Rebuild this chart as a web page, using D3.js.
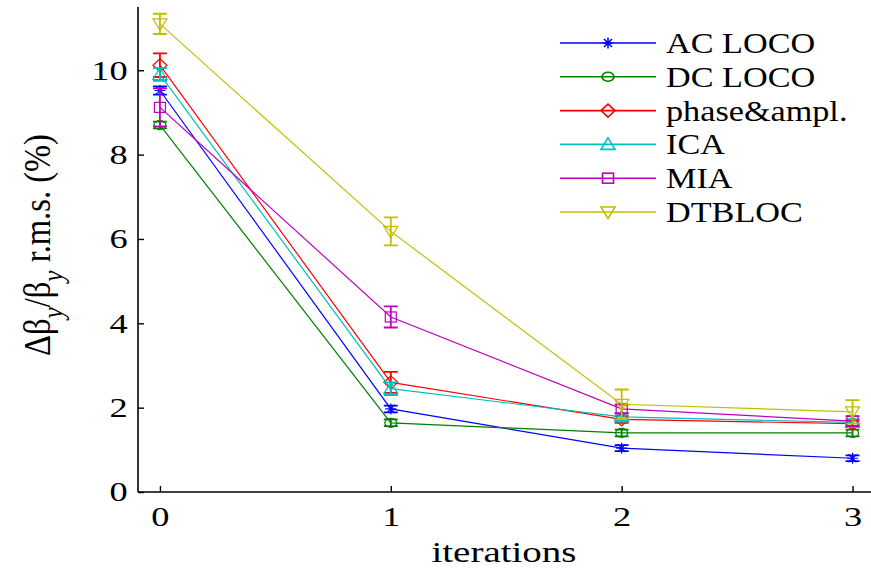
<!DOCTYPE html>
<html><head><meta charset="utf-8">
<script src="https://cdn.jsdelivr.net/npm/d3@7"></script>
<style>body{margin:0;background:#fff}svg{display:block}
svg text{font-family:"Liberation Serif","DejaVu Serif","Times New Roman",Times,serif}</style>
</head><body>
<svg id="c" width="871" height="571"></svg>
<script>
const iterations = [0, 1, 2, 3];
const seriesNames = ["AC LOCO", "DC LOCO", "phase&ampl.", "ICA", "MIA", "DTBLOC"];
const acLoco   = [9.52, 1.97, 1.04, 0.80];
const acErr    = [0.10, 0.08, 0.07, 0.07];
const dcLoco   = [8.70, 1.64, 1.40, 1.40];
const dcErr    = [0.08, 0.08, 0.08, 0.08];
const phaseAmp = [10.12, 2.60, 1.72, 1.62];
const phaseErr = [0.28, 0.25, 0.08, 0.08];
const ica      = [9.90, 2.45, 1.78, 1.65];
const icaErr   = [0.15, 0.15, 0.08, 0.08];
const mia      = [9.12, 4.15, 1.97, 1.68];
const miaErr   = [0.45, 0.25, 0.10, 0.12];
const dtbloc   = [11.10, 6.18, 2.08, 1.90];
const dtErr    = [0.24, 0.33, 0.35, 0.28];
const yTicks = [0, 2, 4, 6, 8, 10];
const xTicks = [0, 1, 2, 3];

const colors = ["#0000ff", "#008000", "#ff0000", "#00bfbf", "#bf00bf", "#bfbf00"];
const markers = ["star", "circle", "diamond", "triUp", "square", "triDown"];
const values = [acLoco, dcLoco, phaseAmp, ica, mia, dtbloc];
const errs = [acErr, dcErr, phaseErr, icaErr, miaErr, dtErr];

const svg = d3.select("#c");
const x = d3.scaleLinear().domain([-0.095, 3.08]).range([138, 871]);
const y = d3.scaleLinear().domain([0, 11.5]).range([492, 7]);
const SX = 1.3;

// axes
const gx = svg.append("g").attr("transform", "translate(0,492)")
  .call(d3.axisBottom(x).tickValues(xTicks).tickFormat(d3.format("d")).tickSize(-6).tickPadding(14));
const gy = svg.append("g").attr("transform", "translate(138,0)")
  .call(d3.axisLeft(y).tickValues(yTicks).tickFormat(d3.format("d")).tickSize(-6).tickPadding(8));
[gx, gy].forEach(g => {
  g.attr("font-family", null);
  g.select(".domain").attr("stroke", "#000").attr("stroke-width", 1.6);
  g.selectAll(".tick line").attr("stroke", "#000").attr("stroke-width", 1.4);
  g.selectAll(".tick text").attr("font-size", 28).attr("fill", "#000").attr("transform", `scale(${SX},1)`);
});
gx.select(".domain").attr("d", "M138,0H871");
gy.select(".domain").attr("d", "M0,492V7");

svg.append("text").attr("transform", `translate(504,562) scale(${SX},1)`).attr("text-anchor", "middle")
  .attr("font-size", 30).text("iterations");

const yl = svg.append("text").attr("transform", "translate(50,245) rotate(-90) scale(1.05,1.25)")
  .attr("text-anchor", "middle").attr("font-size", 31);
yl.append("tspan").text("Δβ");
yl.append("tspan").attr("font-size", 24).attr("font-style", "italic").attr("dy", 10).text("y");
yl.append("tspan").attr("dy", -10).text("/β");
yl.append("tspan").attr("font-size", 24).attr("font-style", "italic").attr("dy", 10).text("y");
yl.append("tspan").attr("dy", -10).text(" r.m.s. (%)");

function drawMarker(g, type, cx, cy) {
  const s = 5;
  if (type === "circle") g.append("ellipse").attr("cx", cx).attr("cy", cy).attr("rx", 6).attr("ry", 4.5);
  else if (type === "square") g.append("rect").attr("x", cx - 5.5).attr("y", cy - s).attr("width", 11).attr("height", 2 * s);
  else if (type === "diamond") g.append("path").attr("d", `M${cx},${cy - 6.5}L${cx + 7},${cy}L${cx},${cy + 6.5}L${cx - 7},${cy}Z`);
  else if (type === "triUp") g.append("path").attr("d", `M${cx},${cy - 6.5}L${cx + 7},${cy + 5}L${cx - 7},${cy + 5}Z`);
  else if (type === "triDown") g.append("path").attr("d", `M${cx},${cy + 6.5}L${cx + 7},${cy - 5}L${cx - 7},${cy - 5}Z`);
  else if (type === "star") {
    g.append("path").attr("d", `M${cx - 5.5},${cy}H${cx + 5.5}M${cx},${cy - 5.5}V${cy + 5.5}M${cx - 4},${cy - 4}L${cx + 4},${cy + 4}M${cx - 4},${cy + 4}L${cx + 4},${cy - 4}`);
  }
}

const line = d3.line().x((d, i) => x(iterations[i])).y(d => y(d));
values.forEach((vals, k) => {
  const g = svg.append("g").attr("fill", "none").attr("stroke", colors[k]).attr("stroke-width", 1.2);
  g.append("path").attr("d", line(vals));
  vals.forEach((v, i) => {
    const cx = x(iterations[i]);
    const e = errs[k][i];
    const eg = g.append("g").attr("stroke-width", 1.8);
    eg.append("path").attr("d", `M${cx},${y(v + e)}V${y(v - e)}M${cx - 7},${y(v + e)}H${cx + 7}M${cx - 7},${y(v - e)}H${cx + 7}`);
    drawMarker(g, markers[k], cx, y(v));
  });
});

// legend
seriesNames.forEach((name, k) => {
  const ly = 43 + k * 33.8;
  const g = svg.append("g").attr("fill", "none").attr("stroke", colors[k]).attr("stroke-width", 1.6);
  g.append("line").attr("x1", 560).attr("x2", 656).attr("y1", ly).attr("y2", ly);
  drawMarker(g, markers[k], 608, ly);
  svg.append("text").attr("transform", `translate(666,${ly + 10}) scale(1.18,1)`).attr("font-size", 29)
    .attr("fill", "#000").text(name);
});
</script>
</body></html>
